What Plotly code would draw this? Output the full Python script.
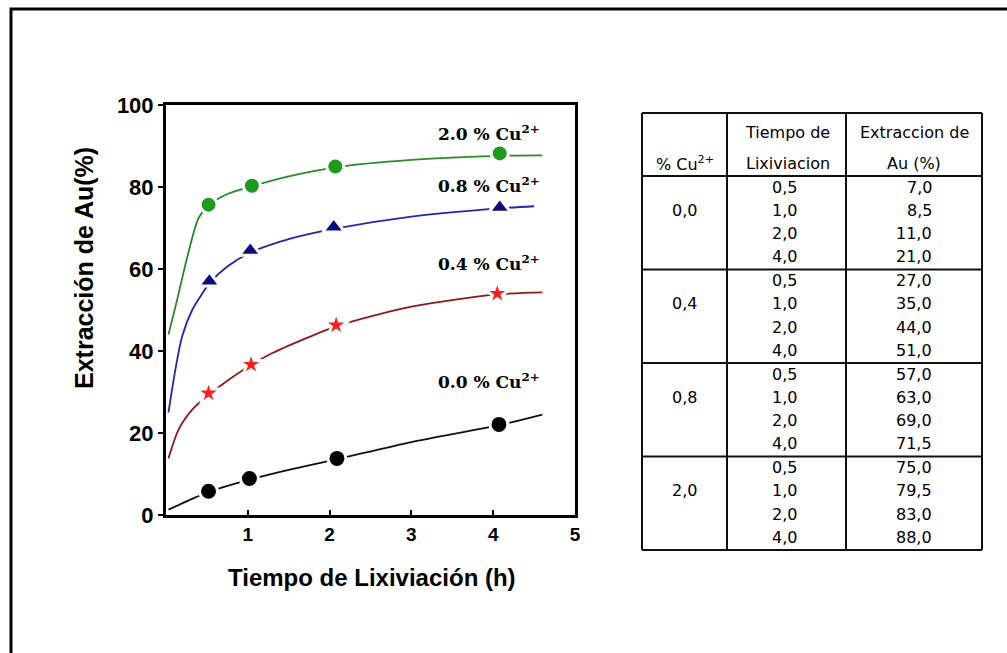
import plotly.graph_objects as go

# Canvas size in pixels
W, H = 1007, 653


def fx(x):
    return x / W


def fy(y):
    return 1 - y / H


# ---- Measured points (time in h, Au extraction in %) ----
t_pts_20 = [0.52, 1.05, 2.07, 4.08]
au_pts_20 = [75.7, 80.3, 85.0, 88.2]
t_pts_08 = [0.53, 1.03, 2.05, 4.08]
au_pts_08 = [57.0, 64.5, 70.2, 75.0]
t_pts_04 = [0.52, 1.04, 2.08, 4.05]
au_pts_04 = [29.7, 36.7, 46.3, 54.0]
t_pts_00 = [0.52, 1.02, 2.09, 4.07]
au_pts_00 = [5.8, 8.9, 13.8, 22.1]

# ---- Fitted kinetic curves ----
t_fit_20 = [0.03, 0.135, 0.24, 0.40, 0.52, 0.75, 1.05, 1.5, 2.07, 3.0, 4.08, 4.6]
au_fit_20 = [44.0, 52.4, 61.3, 72.5, 75.5, 78.3, 80.2, 82.6, 84.8, 86.6, 87.6, 87.7]
t_fit_08 = [0.03, 0.114, 0.196, 0.32, 0.43, 0.53, 0.75, 1.03, 1.5, 2.05, 3.0, 4.08, 4.5]
au_fit_08 = [25.0, 35.4, 43.5, 50.0, 53.6, 56.5, 60.6, 64.0, 67.3, 69.8, 72.8, 74.8, 75.3]
t_fit_04 = [0.03, 0.155, 0.32, 0.46, 0.67, 0.93, 1.3, 1.7, 2.08, 3.0, 4.05, 4.6]
au_fit_04 = [13.8, 20.9, 25.7, 28.3, 31.6, 35.2, 39.5, 43.0, 46.0, 50.8, 53.8, 54.3]
t_fit_00 = [0.03, 0.36, 0.52, 1.02, 1.5, 2.09, 3.0, 4.07, 4.6]
au_fit_00 = [1.3, 4.3, 5.6, 8.6, 11.0, 13.6, 17.8, 21.9, 24.5]

series_labels = ["2.0 % Cu<sup>2+</sup>", "0.8 % Cu<sup>2+</sup>",
                 "0.4 % Cu<sup>2+</sup>", "0.0 % Cu<sup>2+</sup>"]

x_ticks = [1, 2, 3, 4, 5]
y_ticks = [0, 20, 40, 60, 80, 100]

# ---- Table contents ----
head_cu = "% Cu<sup>2+</sup>"
head_tiempo = ["Tiempo de", "Lixiviacion"]
head_extr = ["Extraccion de", "Au (%)"]
cu_levels = [0.0, 0.4, 0.8, 2.0]
tiempo_tabla = [0.5, 1.0, 2.0, 4.0]
extraccion_tabla = [
    [7.0, 8.5, 11.0, 21.0],
    [27.0, 35.0, 44.0, 51.0],
    [57.0, 63.0, 69.0, 71.5],
    [75.0, 79.5, 83.0, 88.0],
]


def coma(v):
    return f"{v:.1f}".replace(".", ",")


fig = go.Figure()

curves = [
    (t_fit_20, au_fit_20, t_pts_20, au_pts_20, "#2a8a2a", "#1e9a1e", "circle", 17),
    (t_fit_08, au_fit_08, t_pts_08, au_pts_08, "#2525b0", "#0c0c80", "triangle-up", 19),
    (t_fit_04, au_fit_04, t_pts_04, au_pts_04, "#8e1a1a", "#ff1c1c", "star", 19),
    (t_fit_00, au_fit_00, t_pts_00, au_pts_00, "#111111", "#000000", "circle", 18),
]

for tf, af, tp, ap, lc, mc, sym, ms in curves:
    fig.add_trace(go.Scatter(
        x=tf, y=af, mode="lines",
        line=dict(color=lc, width=1.8, shape="spline", smoothing=0.8),
        showlegend=False, hoverinfo="skip",
    ))
    fig.add_trace(go.Scatter(
        x=tp, y=ap, mode="markers",
        marker=dict(symbol=sym, size=ms, color=mc,
                    line=dict(color="white", width=3)),
        showlegend=False,
    ))

axis_font = "Liberation Sans, Arial, sans-serif"

fig.update_layout(
    width=W, height=H, autosize=False,
    margin=dict(l=0, r=0, t=0, b=0, pad=0, autoexpand=False),
    paper_bgcolor="white", plot_bgcolor="white",
    xaxis=dict(
        domain=[fx(166), fx(575)], range=[0, 5], automargin=False,
        tickvals=x_ticks, ticks="inside", ticklen=5, tickwidth=1.5, tickcolor="black",
        showgrid=False, zeroline=False,
        showline=True, linewidth=3, linecolor="black", mirror=True,
        tickfont=dict(family=axis_font, size=19, color="black", weight="bold"),
    ),
    yaxis=dict(
        domain=[fy(515), fy(105)], range=[0, 100], automargin=False,
        tickvals=y_ticks, ticks="outside", ticklen=5, tickwidth=1.5, tickcolor="black",
        showgrid=False, zeroline=False,
        showline=True, linewidth=3, linecolor="black", mirror=True,
        tickfont=dict(family=axis_font, size=22, color="black", weight="bold"),
    ),
)

annotations = []


def text_at(x, y, txt, font, xanchor="center", angle=0):
    annotations.append(dict(
        x=fx(x), y=fy(y), xref="paper", yref="paper", text=txt,
        showarrow=False, font=font, textangle=angle,
        xanchor=xanchor, yanchor="middle",
    ))


# Axis titles
text_at(372, 577, "Tiempo de Lixiviación (h)",
        dict(family=axis_font, size=24, color="black", weight="bold"))
text_at(84, 268, "Extracción de Au(%)",
        dict(family=axis_font, size=25, color="black", weight="bold"), angle=-90)

# Series labels next to each curve
label_y = [133, 185, 263, 381]
lab_font = dict(family="DejaVu Serif, serif", size=17, color="black", weight="bold")
for lab, ly in zip(series_labels, label_y):
    text_at(542, ly, lab, lab_font, xanchor="right")

# ---- Table drawn with shapes and text ----
tab_l, tab_r = 642, 982
col_1, col_2 = 727, 846
tab_t, head_b, tab_b = 113, 176, 550
grp_h = (tab_b - head_b) / 4
row_h = 23.3
row_0 = 11.0

shapes = []
line_kw = dict(color="#111111", width=2)


def seg(x0, y0, x1, y1):
    shapes.append(dict(type="line", xref="paper", yref="paper",
                       x0=fx(x0), y0=fy(y0), x1=fx(x1), y1=fy(y1), line=line_kw))


seg(tab_l, tab_t, tab_r, tab_t)
seg(tab_l, tab_t, tab_l, tab_b)
seg(tab_r, tab_t, tab_r, tab_b)
seg(col_1, tab_t, col_1, tab_b)
seg(col_2, tab_t, col_2, tab_b)
for g in range(5):
    yy = head_b + g * grp_h
    seg(tab_l, yy, tab_r, yy)

tab_font = dict(family="DejaVu Sans, sans-serif", size=16, color="black")

text_at((tab_l + col_1) / 2, 163, head_cu, tab_font)
for i, (a, b) in enumerate(zip(head_tiempo, head_extr)):
    yy = 132 + i * 31.5
    text_at((col_1 + col_2) / 2 + 1, yy, a, tab_font)
    text_at((col_2 + tab_r) / 2, yy, b, tab_font)

for g, cu in enumerate(cu_levels):
    top = head_b + g * grp_h
    text_at((tab_l + col_1) / 2, top + row_0 + row_h, coma(cu), tab_font)
    for r, (tt, ex) in enumerate(zip(tiempo_tabla, extraccion_tabla[g])):
        yy = top + row_0 + r * row_h
        text_at(784, yy, coma(tt), tab_font)
        text_at(934, yy, coma(ex), tab_font, xanchor="right")

# Outer frame around the whole figure (runs off the right and bottom edges)
shapes.append(dict(type="rect", xref="paper", yref="paper",
                   x0=fx(11), y0=-0.05, x1=1.05, y1=fy(9),
                   line=dict(color="black", width=3)))

fig.update_layout(annotations=annotations, shapes=shapes)

fig.write_html("out.html")
